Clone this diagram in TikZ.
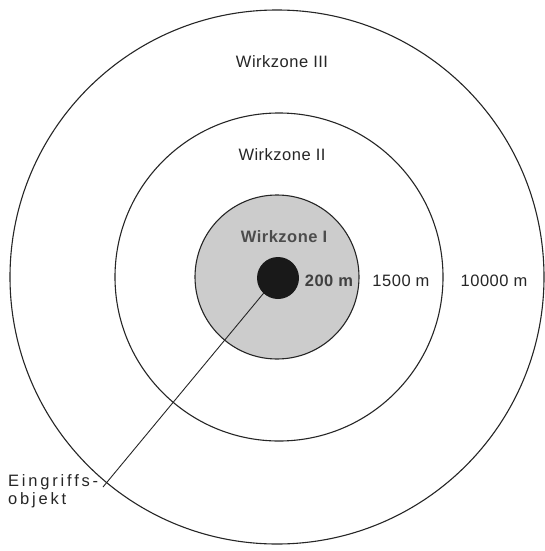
\documentclass[tikz,border=0pt]{standalone}
\usepackage{fontspec}
\setmainfont{Liberation Sans}
\newfontfamily\plainfont[LetterSpace=3]{Liberation Sans}
\newfontfamily\spacedfont[LetterSpace=17]{Liberation Sans}
\begin{document}
\begin{tikzpicture}[x=1pt,y=-1pt,
  ring/.style={draw=black!85,line width=1.1pt},
  lbl/.style={font=\plainfont\fontsize{16.5}{19}\selectfont,text=black!85,inner sep=0pt},
  boldlbl/.style={font=\plainfont\bfseries\fontsize{16.5}{19}\selectfont,inner sep=0pt},
  sidelbl/.style={font=\spacedfont\fontsize{16.5}{18}\selectfont,text=black!85,inner sep=0pt,align=left}]
\useasboundingbox[fill=white] (0,0) rectangle (545,551);
\coordinate (c) at (277,277);
\node[ring,circle,minimum size=534pt,inner sep=0pt] (outer) at (c) {};
\node[ring,circle,minimum size=328pt,inner sep=0pt] (middle) at (279,277) {};
\node[ring,circle,fill=black!20,minimum size=164pt,inner sep=0pt] (inner) at (c) {};
\coordinate (lineend) at (103,487);
\draw[black!85,line width=0.9pt] (c) -- (lineend);
\node[circle,fill=black!90,minimum size=42pt,inner sep=0pt] (dot) at (278,278) {};
\node[lbl] (w3) at (282,62) {Wirkzone III};
\node[lbl] (w2) at (282,155) {Wirkzone II};
\node[boldlbl,text=black!70] (w1) at (284,237) {Wirkzone I};
\node[boldlbl,text=black!75] (r1) at (329,281) {200 m};
\node[lbl] (r2) at (401,281) {1500 m};
\node[lbl] (r3) at (494,281) {10000 m};
\node[sidelbl,anchor=north west] (obj) at (8,474) {Eingriffs-\\objekt};
\end{tikzpicture}
\end{document}
